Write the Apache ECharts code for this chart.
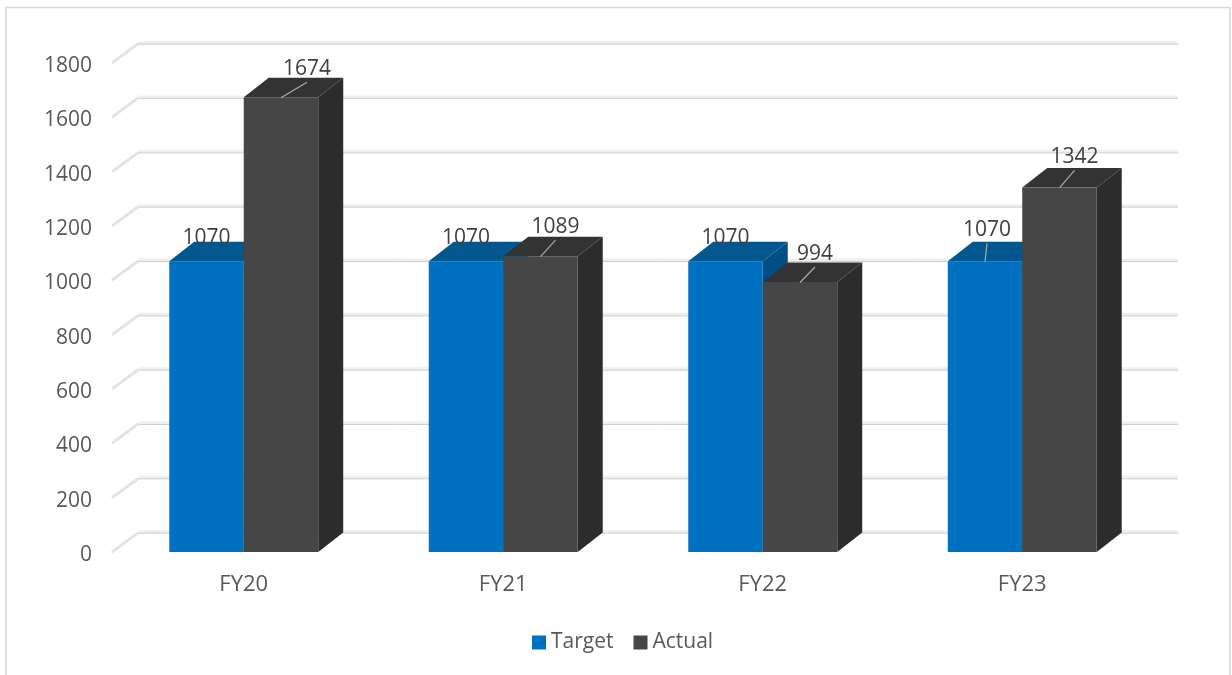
<!DOCTYPE html>
<html>
<head>
<meta charset="utf-8">
<style>html,body{margin:0;padding:0;background:#fff}#chart{width:1232px;height:675px}</style>
<script src="https://cdn.jsdelivr.net/npm/echarts@6/dist/echarts.min.js"></script>
</head>
<body>
<div id="chart"></div>
<script>
// Fiscal year figures
const categories = ['FY20', 'FY21', 'FY22', 'FY23'];
const targetValues = [1070, 1070, 1070, 1070];
const actualValues = [1674, 1089, 994, 1342];
const yTicks = [0, 200, 400, 600, 800, 1000, 1200, 1400, 1600, 1800];

// Where each value label sits relative to the top centre of its bar: [dx, dy]
const targetLabelShift = [[0, -23], [0, -23], [0, -23], [2, -31]];
const actualLabelShift = [[26, -28], [15, -29], [15, -28], [15, -30]];
// Only labels pulled away from their bar get a leader line
const targetHasLeader = [false, false, false, true];
const actualHasLeader = [true, true, true, true];

const DEPTH_X = 25, DEPTH_Y = 19.5;
const BAR_SHARE = 0.287;
const FONT = '"Open Sans", sans-serif';

const palette = {
  target: { front: '#0070C0', top: '#02578F', side: '#024F86' },
  actual: { front: '#464646', top: '#333333', side: '#2C2C2C' }
};

function renderBar(colors, sideSign) {
  return function (params, api) {
    const idx = api.value(0);
    const base = api.coord([idx, 0]);
    const top = api.coord([idx, api.value(1)]);
    const w = api.size([1, 0])[0] * BAR_SHARE;
    const x0 = sideSign < 0 ? base[0] - w : base[0];
    const x1 = x0 + w;
    const yT = top[1], yB = base[1];
    return {
      type: 'group',
      children: [
        { type: 'polygon',
          shape: { points: [[x1, yB], [x1 + DEPTH_X, yB - DEPTH_Y], [x1 + DEPTH_X, yT - DEPTH_Y], [x1, yT]] },
          style: { fill: colors.side } },
        { type: 'polygon',
          shape: { points: [[x0, yT], [x0 + DEPTH_X, yT - DEPTH_Y], [x1 + DEPTH_X, yT - DEPTH_Y], [x1, yT]] },
          style: { fill: colors.top } },
        { type: 'rect',
          shape: { x: x0, y: yT, width: w, height: yB - yT },
          style: { fill: colors.front } }
      ]
    };
  };
}

// Side wall and back wall rules of the box behind the bars
function renderWall(params, api) {
  const cs = params.coordSys;
  const p = api.coord([0, api.value(0)]);
  const y = p[1];
  const left = cs.x - 2;
  const back = cs.x + 24.5;
  const right = cs.x + cs.width + 26;
  const backY = y - DEPTH_Y;
  return {
    type: 'group',
    children: [
      { type: 'line', shape: { x1: back, y1: backY - 0.8, x2: right, y2: backY - 0.8 },
        style: { stroke: '#EFEFEF', lineWidth: 3 } },
      { type: 'line', shape: { x1: back, y1: backY + 0.7, x2: right, y2: backY + 0.7 },
        style: { stroke: '#CFCFCF', lineWidth: 1 } },
      { type: 'line', shape: { x1: left, y1: y, x2: back, y2: backY },
        style: { stroke: '#D4D4D4', lineWidth: 2.4 } },
      { type: 'line', shape: { x1: left, y1: y, x2: back, y2: backY },
        style: { stroke: '#F7F7F7', lineWidth: 0.9 } }
    ]
  };
}

function renderLabel(params, api) {
  const idx = api.value(0);
  const side = api.value(2);
  const base = api.coord([idx, 0]);
  const top = api.coord([idx, api.value(1)]);
  const w = api.size([1, 0])[0] * BAR_SHARE;
  const cx = base[0] + side * w / 2;
  const tx = cx + api.value(3);
  const ty = top[1] + api.value(4);
  const children = [{
    type: 'text',
    style: { text: String(api.value(1)), x: tx, y: ty, align: 'center', verticalAlign: 'middle',
             font: '21px ' + FONT, fill: '#404040' }
  }];
  if (api.value(5)) {
    children.push({
      type: 'line',
      shape: { x1: cx, y1: top[1] + 0.5, x2: tx, y2: ty + 13 },
      style: { stroke: '#ABABAB', lineWidth: 1.2 }
    });
  }
  return { type: 'group', children };
}

const labelRows = [];
categories.forEach((c, i) => {
  labelRows.push([i, targetValues[i], -1, targetLabelShift[i][0], targetLabelShift[i][1], targetHasLeader[i] ? 1 : 0]);
  labelRows.push([i, actualValues[i], 1, actualLabelShift[i][0], actualLabelShift[i][1], actualHasLeader[i] ? 1 : 0]);
});

const chart = echarts.init(document.getElementById('chart'), null, { renderer: 'canvas' });
chart.setOption({
  animation: false,
  backgroundColor: '#fff',
  graphic: [{
    type: 'rect', silent: true, z: -10,
    shape: { x: 6, y: 7.5, width: 1224, height: 720 },
    style: { fill: 'none', stroke: '#D9D9D9', lineWidth: 1.6 }
  }],
  grid: { left: 114, right: 80, top: 63, height: 489 },
  legend: {
    data: ['Target', 'Actual'],
    left: 527, top: 627, itemWidth: 14, itemHeight: 14, itemGap: 20, icon: 'rect',
    textStyle: { fontFamily: FONT, fontSize: 21, color: '#595959' }
  },
  xAxis: {
    type: 'category', data: categories,
    axisLine: { show: false }, axisTick: { show: false }, splitLine: { show: false },
    axisLabel: { fontFamily: FONT, fontSize: 22, color: '#595959', margin: 22 }
  },
  yAxis: {
    type: 'value', min: 0, max: 1800, interval: 200,
    axisLine: { show: false }, axisTick: { show: false }, splitLine: { show: false },
    axisLabel: { margin: 22, formatter: v => '{n|' + v + '}',
                 rich: { n: { fontFamily: FONT, fontSize: 21, color: '#595959', padding: [6, 0, 0, 0] } } }
  },
  series: [
    { name: 'walls', type: 'custom', coordinateSystem: 'cartesian2d', clip: false, z: 1, silent: true,
      renderItem: renderWall, data: yTicks.map(v => [v]), encode: { y: 0 } },
    { name: 'Target', type: 'custom', coordinateSystem: 'cartesian2d', clip: false, z: 2,
      itemStyle: { color: palette.target.front },
      renderItem: renderBar(palette.target, -1),
      data: targetValues.map((v, i) => [i, v]), encode: { x: 0, y: 1 } },
    { name: 'Actual', type: 'custom', coordinateSystem: 'cartesian2d', clip: false, z: 3,
      itemStyle: { color: palette.actual.front },
      renderItem: renderBar(palette.actual, 1),
      data: actualValues.map((v, i) => [i, v]), encode: { x: 0, y: 1 } },
    { name: 'labels', type: 'custom', coordinateSystem: 'cartesian2d', clip: false, z: 4, silent: true,
      renderItem: renderLabel, data: labelRows, encode: { x: 0, y: 1 } }
  ]
});
</script>
</body>
</html>
